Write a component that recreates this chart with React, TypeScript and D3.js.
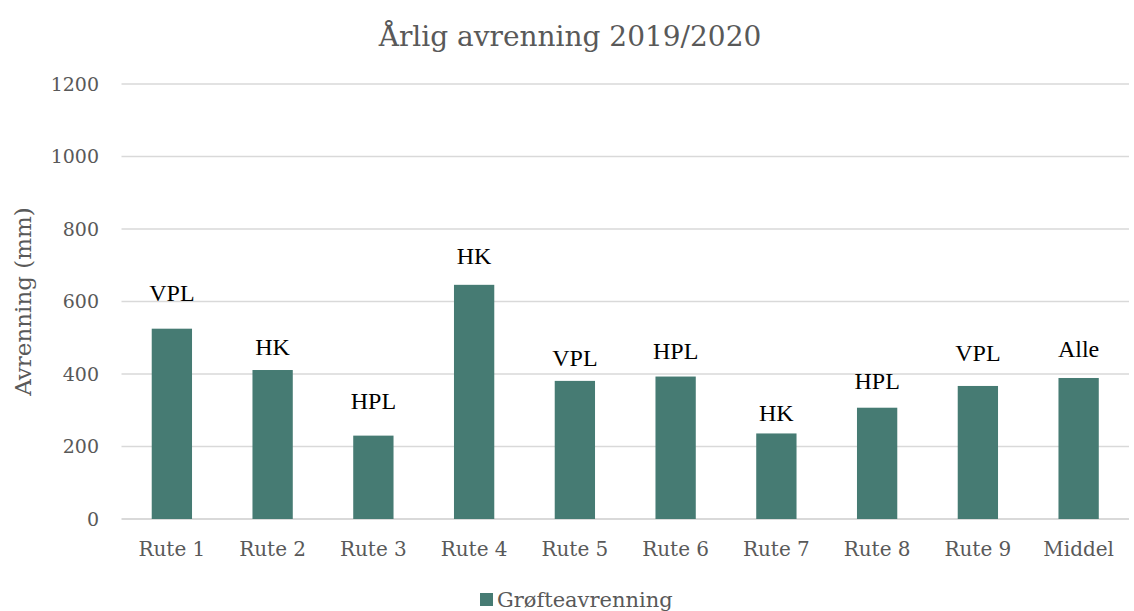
import React from 'react';
import * as d3 from 'd3';

// data
const categories = ['Rute 1', 'Rute 2', 'Rute 3', 'Rute 4', 'Rute 5', 'Rute 6', 'Rute 7', 'Rute 8', 'Rute 9', 'Middel'];
const values = [525, 411, 230, 646, 381, 393, 236, 307, 367, 389];
const groupLabels = ['VPL', 'HK', 'HPL', 'HK', 'VPL', 'HPL', 'HK', 'HPL', 'VPL', 'Alle'];
// where the hand-placed label sits, in mm on the y scale
const labelAt = [602, 453, 304, 704, 423, 442, 269, 359, 436, 447];
const yTicks = [0, 200, 400, 600, 800, 1000, 1200];

const title = 'Årlig avrenning 2019/2020';
const yTitle = 'Avrenning (mm)';
const seriesName = 'Grøfteavrenning';

const App = () => {
  const width = 1134;
  const height = 611;
  const marginTop = 84;
  const marginRight = 5;
  const marginBottom = 92;
  const marginLeft = 121.5;

  const barColor = '#467b73';
  const gridColor = '#d9d9d9';
  const textGray = '#595959';
  const axisFont = '"DejaVu Serif", serif';
  const labelFont = '"Liberation Serif", serif';

  const x = d3.scaleBand<string>()
    .domain(categories)
    .range([marginLeft, width - marginRight])
    .paddingInner(0.6)
    .paddingOuter(0.3);

  const y = d3.scaleLinear([0, 1200], [height - marginBottom, marginTop]);

  return (
    <svg
      width={width}
      height={height}
      viewBox={`0 0 ${width} ${height}`}
      style={{ position: 'fixed', left: 0, top: 0, background: '#fff' }}
    >
      <text x={570} y={46} textAnchor="middle" fontFamily={axisFont} fontSize={28} fill={textGray}>
        {title}
      </text>

      {/* gridlines and y tick labels */}
      {yTicks.map(t => (
        <g key={t}>
          <line
            x1={marginLeft}
            x2={width - marginRight}
            y1={y(t)}
            y2={y(t)}
            stroke={gridColor}
            strokeWidth={t === 0 ? 2 : 1.5}
          />
          <text x={99} y={y(t)} dy="0.35em" textAnchor="end" fontFamily={axisFont} fontSize={19} fill={textGray}>
            {t}
          </text>
        </g>
      ))}

      <text
        transform={`translate(31,${(marginTop + height - marginBottom) / 2}) rotate(-90)`}
        textAnchor="middle"
        fontFamily={axisFont}
        fontSize={23}
        fill={textGray}
      >
        {yTitle}
      </text>

      {/* bars */}
      {categories.map((c, i) => (
        <rect
          key={c}
          x={x(c)}
          y={y(values[i])}
          width={x.bandwidth()}
          height={y(0) - y(values[i])}
          fill={barColor}
        />
      ))}

      {/* group labels above bars */}
      {categories.map((c, i) => (
        <text
          key={c}
          x={(x(c) ?? 0) + x.bandwidth() / 2}
          y={y(labelAt[i])}
          textAnchor="middle"
          fontFamily={labelFont}
          fontSize={24}
          fill="#000"
        >
          {groupLabels[i]}
        </text>
      ))}

      {/* x tick labels */}
      {categories.map(c => (
        <text
          key={c}
          x={(x(c) ?? 0) + x.bandwidth() / 2}
          y={556}
          textAnchor="middle"
          fontFamily={axisFont}
          fontSize={20}
          fill={textGray}
        >
          {c}
        </text>
      ))}

      {/* legend */}
      <rect x={480} y={593} width={13} height={13} fill={barColor} />
      <text x={497} y={607} fontFamily={axisFont} fontSize={21} fill={textGray}>
        {seriesName}
      </text>
    </svg>
  );
};

export default App;
